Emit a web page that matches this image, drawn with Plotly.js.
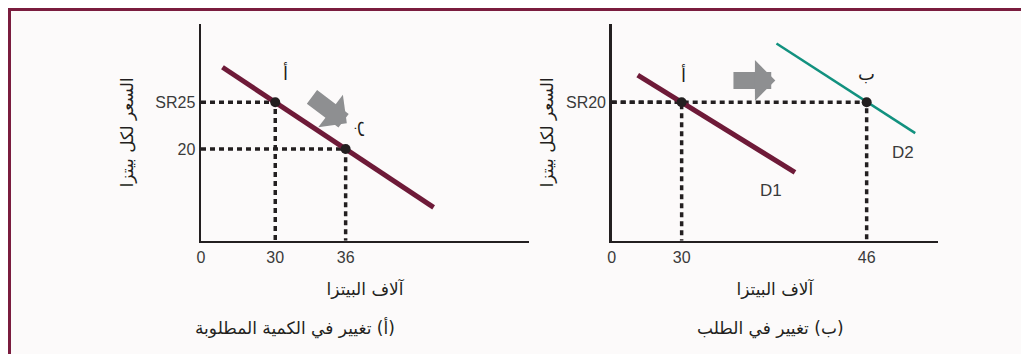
<!DOCTYPE html>
<html><head><meta charset="utf-8">
<script src="https://cdn.plot.ly/plotly-3.0.1.min.js"></script>
<style>
html,body{margin:0;padding:0;background:#fff;width:1021px;height:354px;overflow:hidden}
#frame{position:absolute;left:8px;top:8px;right:0;bottom:0;border-top:3px solid #7a1c3e;border-left:3px solid #7a1c3e;background:#fcfafa}
#chart{position:absolute;left:0;top:0;width:1021px;height:354px}
</style></head><body>
<div id="frame"></div><div id="chart"></div>
<script>
// ---------- data ----------
// Panel (a): movement along the demand curve
const panelATitle = '\u200F(أ) تغيير في الكمية المطلوبة';
const aPointLabels = ['أ', 'ب'];
const aQty = [30, 36];          // thousands of pizzas
const aPrice = [25, 20];        // SR per pizza
const aDemandQty = [25.5, 43.5];
const aDemandPrice = [28.75, 13.75];
const aArrowQty = [33.0, 36.1];     // tail, head
const aArrowPrice = [25.7, 22.75];
const aXTickLabels = ['0', '30', '36'];
const aYTickVals = [25, 20];
const aYTickLabels = ['SR25', '20'];

// Panel (b): shift of the demand curve
const panelBTitle = '\u200F(ب) تغيير في الطلب';
const bPointLabels = ['أ', 'ب'];
const bQty = [30, 46];
const bPrice = [20, 20];
const d1Qty = [26.2, 39.8];
const d1Price = [22.9, 12.5];
const d2Qty = [38.2, 50.2];
const d2Price = [26.3, 16.7];
const bArrowQty = [34.35, 38.1];
const bArrowPrice = [22.33, 22.33];
const bXTickLabels = ['0', '30', '46'];
const bYTickVals = [20];
const bYTickLabels = ['SR20'];
const curveNames = ['D1', 'D2'];

const xTitle = 'آلاف البيتزا';
const yTitle = 'السعر لكل بيتزا';

// axis windows (schematic, broken at the origin)
const aXRange = [23.67, 51.63];
const aYRange = [10.18, 33.38];
const bXRange = [23.95, 52.17];
const bYRange = [5.18, 28.38];

// ---------- styles ----------
const W = 1021, H = 354;
const INK = '#231f20';
const MAROON = '#6e1a38';
const TEAL = '#12917f';
const GRAY = '#8e8f91';
const TXT = '#3a3a3a';
const latin = 'Liberation Sans, Arial, sans-serif';
const arab = 'DejaVu Sans, sans-serif';
const dashGuide = {color: INK, width: 3.5, dash: '5px,4px'};

function px2x(a, b) { return [a / W, b / W]; }
function px2y(top, bottom) { return [1 - bottom / H, 1 - top / H]; }

const traces = [];
// panel a guides
for (let i = 0; i < aQty.length; i++) {
  traces.push({x: [aXRange[0], aQty[i], aQty[i]], y: [aPrice[i], aPrice[i], aYRange[0]],
    xaxis: 'x', yaxis: 'y', mode: 'lines', line: dashGuide, hoverinfo: 'skip'});
}
traces.push({x: aDemandQty, y: aDemandPrice, xaxis: 'x', yaxis: 'y', mode: 'lines',
  line: {color: MAROON, width: 5}});
traces.push({x: aQty, y: aPrice, xaxis: 'x', yaxis: 'y', mode: 'markers',
  marker: {color: INK, size: 10}});
// panel b guides
for (let i = 0; i < bQty.length; i++) {
  traces.push({x: [bXRange[0], bQty[i], bQty[i]], y: [bPrice[i], bPrice[i], bYRange[0]],
    xaxis: 'x2', yaxis: 'y2', mode: 'lines', line: dashGuide, hoverinfo: 'skip'});
}
traces.push({x: d1Qty, y: d1Price, xaxis: 'x2', yaxis: 'y2', mode: 'lines',
  name: curveNames[0], line: {color: MAROON, width: 5}});
traces.push({x: d2Qty, y: d2Price, xaxis: 'x2', yaxis: 'y2', mode: 'lines',
  name: curveNames[1], line: {color: TEAL, width: 2.5}});
traces.push({x: bQty, y: bPrice, xaxis: 'x2', yaxis: 'y2', mode: 'markers',
  marker: {color: INK, size: 10}});

function axisX(domain, range, ticktext, vals) {
  return {domain: domain, range: range, showgrid: false, zeroline: false,
    showline: true, linecolor: INK, linewidth: 2.5, ticks: '',
    tickvals: [range[0] + 0.001].concat(vals), ticktext: ticktext,
    tickfont: {family: latin, size: 16, color: TXT}, ticklabelstandoff: 1,
    title: {text: xTitle, font: {family: arab, size: 17, color: INK}, standoff: 18},
    fixedrange: true};
}
function axisY(domain, range, vals, text, standoff) {
  return {domain: domain, range: range, showgrid: false, zeroline: false,
    showline: true, linecolor: INK, linewidth: 2.5, ticks: '',
    tickvals: vals, ticktext: text,
    tickfont: {family: latin, size: 16, color: TXT}, ticklabelstandoff: 0,
    title: {text: yTitle, font: {family: arab, size: 17, color: INK}, standoff: standoff},
    fixedrange: true};
}

const ann = [];
function label(text, x, y, xr, yr, font, angle) {
  ann.push({text: text, x: x, y: y, xref: xr, yref: yr, showarrow: false,
    font: font, textangle: angle || 0, xanchor: 'center', yanchor: 'middle'});
}
const arabLbl = {family: arab, size: 18, color: INK};
const latLbl = {family: latin, size: 17, color: TXT};
label(aPointLabels[0], 30.89, 28.14, 'x', 'y', arabLbl);
label(aPointLabels[1], 37.6, 22.14, 'x', 'y', arabLbl, 90);
label(bPointLabels[0], 30.2, 22.92, 'x2', 'y2', arabLbl);
label(bPointLabels[1], 46.0, 23.03, 'x2', 'y2', arabLbl);
label(curveNames[0], 37.7, 10.6, 'x2', 'y2', latLbl);
label(curveNames[1], 49.14, 14.6, 'x2', 'y2', latLbl);

function arrow(q, p, xr, yr) {
  ann.push({text: '', x: q[1], y: p[1], ax: q[0], ay: p[0], xref: xr, yref: yr,
    axref: xr, ayref: yr, showarrow: true, arrowhead: 1, arrowsize: 0.4,
    arrowwidth: 17, arrowcolor: GRAY, standoff: 0});
}
arrow(aArrowQty, aArrowPrice, 'x', 'y');
arrow(bArrowQty, bArrowPrice, 'x2', 'y2');

ann.push({text: panelATitle, x: 295 / W, y: 1 - 328 / H, xref: 'paper', yref: 'paper',
  showarrow: false, font: {family: arab, size: 17, color: INK}, xanchor: 'center', yanchor: 'middle'});
ann.push({text: panelBTitle, x: 770 / W, y: 1 - 328 / H, xref: 'paper', yref: 'paper',
  showarrow: false, font: {family: arab, size: 17, color: INK}, xanchor: 'center', yanchor: 'middle'});

const layout = {
  width: W, height: H, margin: {l: 0, r: 0, t: 0, b: 0},
  paper_bgcolor: 'rgba(0,0,0,0)', plot_bgcolor: 'rgba(0,0,0,0)',
  showlegend: false,
  xaxis: axisX(px2x(201, 529), aXRange, aXTickLabels, aQty),
  yaxis: axisY(px2y(24, 240.7), aYRange, aYTickVals, aYTickLabels, 18),
  xaxis2: axisX(px2x(611.7, 938), bXRange, bXTickLabels, [30, 46]),
  yaxis2: axisY(px2y(24, 240.7), bYRange, bYTickVals, bYTickLabels, 8),
  annotations: ann
};
layout.xaxis2.anchor = 'y2';
layout.yaxis2.anchor = 'x2';

Plotly.newPlot('chart', traces, layout, {displayModeBar: false, staticPlot: true});
</script></body></html>
